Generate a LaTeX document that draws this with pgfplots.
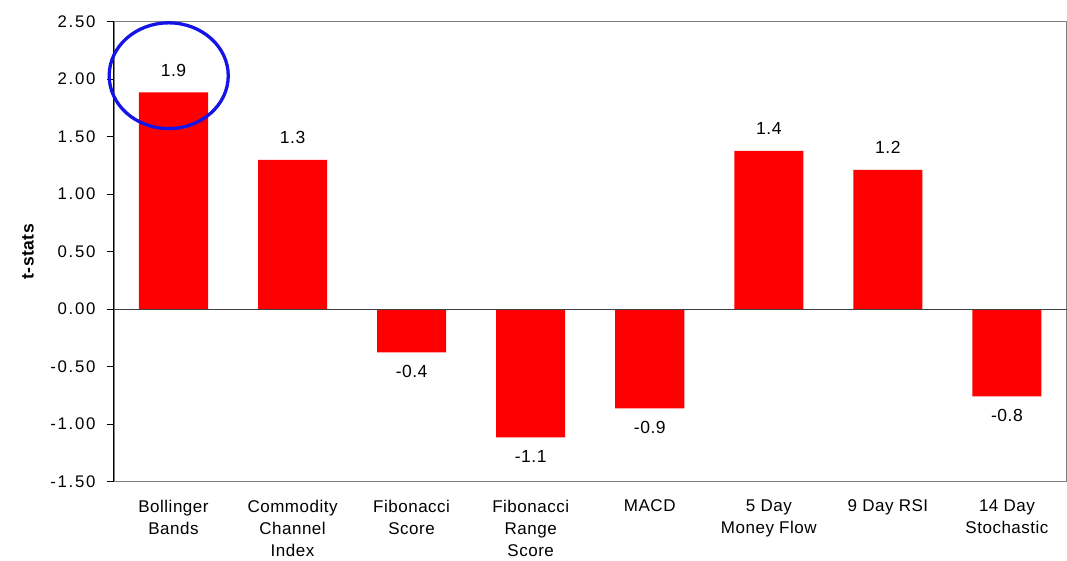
\documentclass[border=0pt]{standalone}
\usepackage{pgfplots}
\pgfplotsset{compat=1.18}
\usepackage{fontspec}
\setmainfont{Liberation Sans}[LetterSpace=3]
\newfontfamily\tickfont{Liberation Sans}[LetterSpace=10]
\definecolor{barred}{RGB}{255,0,0}
\definecolor{zeroline}{RGB}{64,64,64}
\definecolor{ringblue}{RGB}{20,20,230}
\begin{document}
\begin{tikzpicture}
\begin{axis}[
  at={(0,0)}, anchor=south west,
  scale only axis, width=953pt, height=460pt,
  ybar, bar width=0.58,
  xmin=-0.5, xmax=7.5, ymin=-1.5, ymax=2.5,
  ytick={-1.5,-1,-0.5,0,0.5,1,1.5,2,2.5},
  yticklabel style={font=\tickfont\fontsize{16.8}{20}\selectfont, xshift=-8pt,
    /pgf/number format/fixed, /pgf/number format/fixed zerofill,
    /pgf/number format/precision=2, /pgf/number format/assume math mode=true},
  xtick={0,1,2,3,4,5,6,7},
  xticklabels={{Bollinger\\Bands},{Commodity\\Channel\\Index},{Fibonacci\\Score},{Fibonacci\\Range\\Score},{MACD},{5 Day\\Money Flow},{9 Day RSI},{14 Day\\Stochastic}},
  xticklabel style={align=center, font=\fontsize{17}{22.3}\selectfont, yshift=-8pt},
  xtick style={draw=none},
  ytick pos=left,
  tick align=outside,
  major tick length=7pt,
  ytick style={black, line width=0.8pt},
  axis line style={draw=gray, line width=0.8pt},
  ylabel={\textbf{t-stats}},
  every axis y label/.style={at={(rel axis cs:0,0.5)}, xshift=-86pt, rotate=90, anchor=center, font=\fontsize{17.5}{20}\selectfont},
  visualization depends on={y \as \rawy},
  nodes near coords={\pgfmathprintnumber[fixed,precision=1,fixed zerofill,assume math mode=true]{\pgfplotspointmeta}},
  nodes near coords style={font=\fontsize{17.5}{20}\selectfont, inner ysep=13pt, text=black,
    yshift={ifthenelse(\rawy>0,3pt,0pt)}},
  clip=false,
]
\addplot[fill=barred, draw=none] coordinates {
  (0,1.884) (1,1.298) (2,-0.377) (3,-1.116) (4,-0.864) (5,1.376) (6,1.211) (7,-0.760)
};
\draw[zeroline, line width=1pt] (axis cs:-0.5,0) -- (axis cs:7.5,0);
\draw[black, line width=1pt] (rel axis cs:0,0) -- (rel axis cs:0,1);
\draw[ringblue, line width=3.3pt] (axis cs:-0.04,2.03) ellipse [x radius=0.5, y radius=0.46];
\end{axis}
\pgfresetboundingbox
\path (-114pt,-79.2pt) rectangle (953.5pt,481.7pt);
\end{tikzpicture}
\end{document}
